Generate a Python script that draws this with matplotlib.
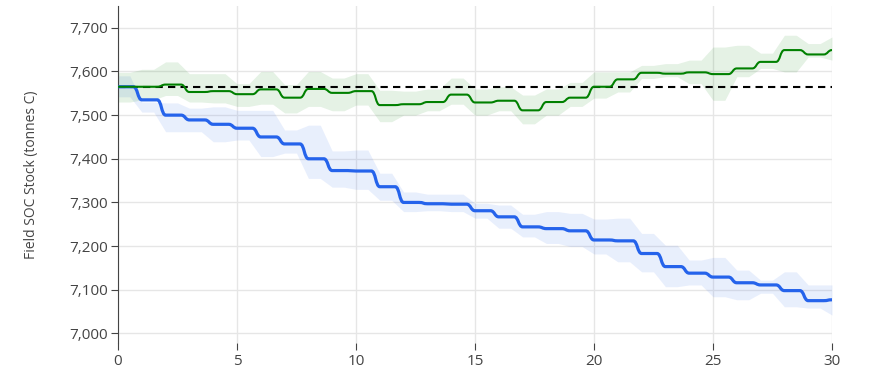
import numpy as np
import matplotlib.pyplot as plt
from matplotlib.path import Path
from matplotlib.patches import PathPatch
from matplotlib.ticker import FuncFormatter

plt.rcParams['font.family'] = ['Open Sans', 'DejaVu Sans']

# yearly values (value reached at the end of each year)
years = list(range(0, 31))

blue_mean = [7565, 7535, 7500, 7489, 7479, 7470, 7450, 7434, 7400, 7373,
             7372, 7336, 7300, 7297, 7296, 7281, 7267, 7244, 7240, 7235,
             7214, 7212, 7183, 7153, 7138, 7129, 7116, 7111, 7098, 7075, 7077]
blue_upper = [7590, 7530, 7528, 7516, 7519, 7511, 7511, 7466, 7477, 7418,
              7420, 7367, 7324, 7319, 7319, 7298, 7294, 7273, 7279, 7275,
              7262, 7264, 7229, 7202, 7168, 7174, 7145, 7122, 7141, 7111, 7111]
blue_lower = [7542, 7507, 7462, 7462, 7439, 7443, 7405, 7413, 7355, 7335,
              7330, 7305, 7279, 7281, 7279, 7264, 7241, 7221, 7206, 7199,
              7182, 7164, 7141, 7107, 7111, 7084, 7077, 7092, 7061, 7058, 7042]

green_mean = [7565, 7565, 7570, 7553, 7555, 7548, 7559, 7540, 7560, 7551,
              7555, 7523, 7525, 7530, 7547, 7529, 7533, 7511, 7530, 7540,
              7565, 7582, 7597, 7595, 7598, 7594, 7607, 7622, 7649, 7639, 7649]
green_upper = [7598, 7605, 7622, 7595, 7595, 7572, 7600, 7570, 7600, 7585,
               7595, 7557, 7555, 7560, 7585, 7560, 7565, 7546, 7560, 7575,
               7599, 7599, 7614, 7618, 7626, 7656, 7660, 7642, 7683, 7664, 7679]
green_lower = [7530, 7535, 7545, 7530, 7528, 7520, 7525, 7505, 7520, 7510,
               7523, 7485, 7500, 7510, 7525, 7500, 7510, 7480, 7500, 7520,
               7539, 7553, 7584, 7588, 7572, 7534, 7588, 7607, 7599, 7633, 7626]

baseline = 7565


def stepped(vals, lag=0.3):
    # hold each year's value, then ramp into the next one just before the year mark
    xs, ys = [years[0]], [vals[0]]
    for i in range(1, len(years)):
        xs += [years[i] - lag, years[i]]
        ys += [vals[i - 1], vals[i]]
    return np.array(xs), np.array(ys)


def smooth_step_path(vals, lag=0.35):
    # same stepping, but each ramp drawn as an S-shaped bezier
    verts = [(years[0], vals[0])]
    codes = [Path.MOVETO]
    for i in range(1, len(years)):
        x0 = years[i] - lag
        xm = years[i] - lag / 2
        verts += [(x0, vals[i - 1]), (xm, vals[i - 1]), (xm, vals[i]), (years[i], vals[i])]
        codes += [Path.LINETO, Path.CURVE4, Path.CURVE4, Path.CURVE4]
    return Path(verts, codes)


fig = plt.figure(figsize=(8.78, 3.73), dpi=100)
ax = fig.add_axes([118 / 878, 1 - 343 / 373, (832 - 118) / 878, (343 - 6) / 373])

blue = '#2563eb'
green = '#008000'

x, lo = stepped(blue_lower, 0.5)
_, hi = stepped(blue_upper, 0.5)
ax.fill_between(x, lo, hi, color=blue, alpha=0.1, linewidth=0, zorder=2)
x, lo = stepped(green_lower, 0.5)
_, hi = stepped(green_upper, 0.5)
ax.fill_between(x, lo, hi, color=green, alpha=0.1, linewidth=0, zorder=2)

ax.plot([years[0], years[-1]], [baseline, baseline], color='black',
        linestyle=(0, (3.5, 2.5)), linewidth=1.5, zorder=3)

ax.add_patch(PathPatch(smooth_step_path(blue_mean), fill=False, edgecolor=blue,
                       linewidth=2.3, zorder=4, joinstyle='round', capstyle='round'))
ax.add_patch(PathPatch(smooth_step_path(green_mean), fill=False, edgecolor=green,
                       linewidth=1.5, zorder=5, joinstyle='round', capstyle='round'))

ax.set_xlim(0, 30)
ax.set_ylim(6978, 7750)
ax.set_xticks([0, 5, 10, 15, 20, 25, 30])
ax.set_yticks(range(7000, 7701, 100))
ax.yaxis.set_major_formatter(FuncFormatter(lambda v, p: f'{int(v):,}'))

ax.grid(True, color='#e6e6e6', linewidth=1)
ax.set_axisbelow(True)
for side in ['top', 'right', 'bottom']:
    ax.spines[side].set_visible(False)
ax.spines['left'].set_color('#444444')
ax.spines['left'].set_linewidth(0.8)

ax.tick_params(axis='both', colors='#444444', labelsize=11, length=5, width=0.8)
ax.tick_params(axis='x', pad=3)
ax.tick_params(axis='y', pad=2)

ax.set_ylabel('Field SOC Stock (tonnes C)', color='#444444', fontsize=10, labelpad=22)

fig.savefig('out.png', dpi=100)
